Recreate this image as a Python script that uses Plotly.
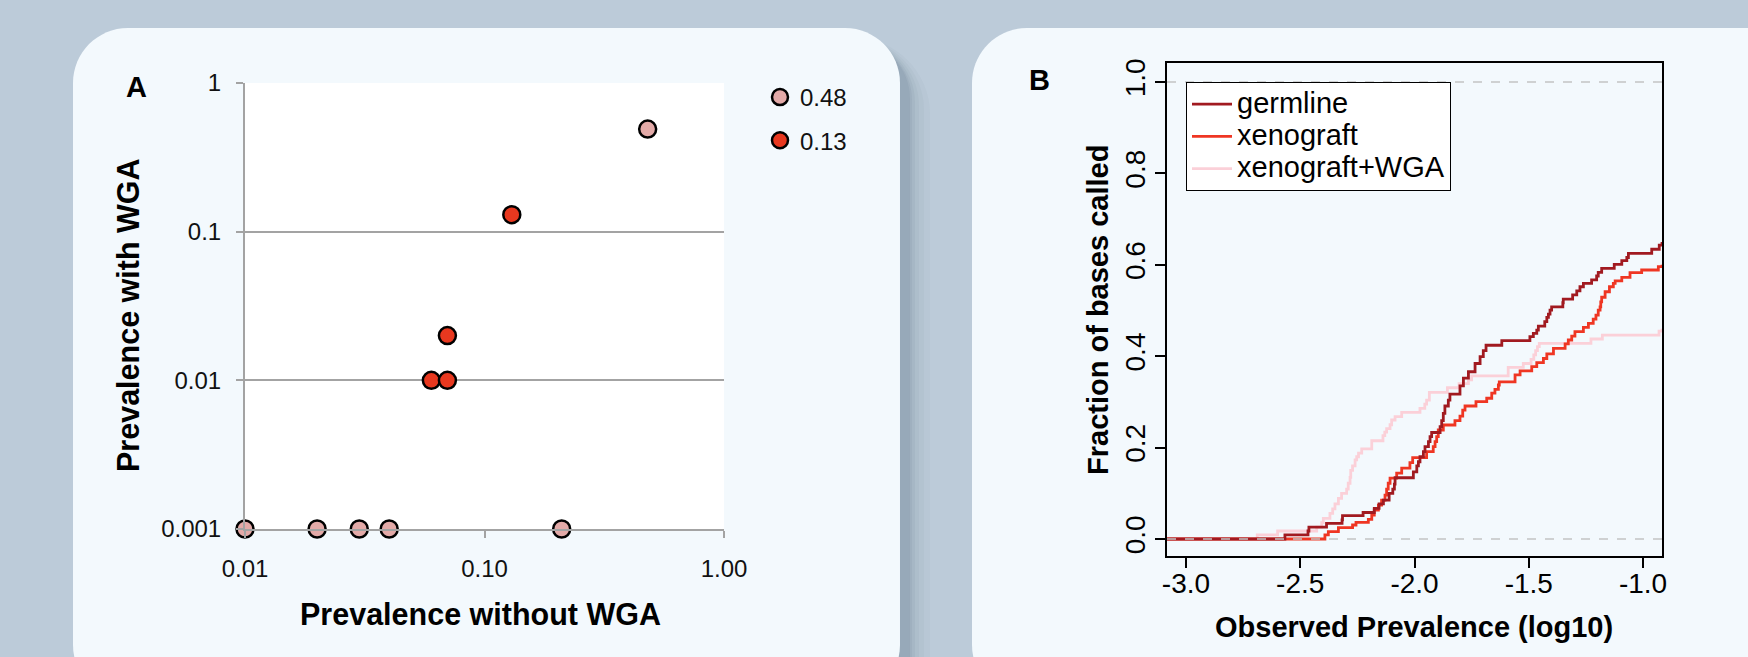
import plotly.graph_objects as go

W, H = 1748, 657

# ---------------- Panel A data ----------------
a_names = ["0.48", "0.13"]
a_pink_x = [0.01, 0.02, 0.03, 0.04, 0.21, 0.48]
a_pink_y = [0.001, 0.001, 0.001, 0.001, 0.001, 0.49]
a_red_x = [0.06, 0.07, 0.07, 0.13]
a_red_y = [0.01, 0.01, 0.02, 0.13]
a_xtick_vals = [0.01, 0.1, 1.0]
a_xtick_text = ["0.01", "0.10", "1.00"]
a_ytick_vals = [0.001, 0.01, 0.1, 1]
a_ytick_text = ["0.001", "0.01", "0.1", "1"]

# ---------------- Panel B data (step curves) ----------------
b_names = ["germline", "xenograft", "xenograft+WGA"]
germ_x = [-3.083, -2.567, -2.466, -2.462, -2.385, -2.317, -2.315, -2.225, -2.176, -2.155,
          -2.136, -2.111, -2.095, -2.088, -2.085, -2.005, -1.990, -1.983, -1.976, -1.961,
          -1.954, -1.939, -1.932, -1.925, -1.888, -1.881, -1.874, -1.867, -1.852, -1.845,
          -1.801, -1.786, -1.764, -1.735, -1.713, -1.699, -1.687, -1.618, -1.495, -1.480,
          -1.465, -1.458, -1.430, -1.421, -1.414, -1.407, -1.400, -1.351, -1.349, -1.308,
          -1.290, -1.276, -1.261, -1.225, -1.203, -1.196, -1.181, -1.126, -1.093, -1.071,
          -1.064, -0.962, -0.929, -0.917]
germ_y = [0.0, 0.009, 0.0175, 0.026, 0.034, 0.042, 0.051, 0.058, 0.067, 0.077,
          0.085, 0.100, 0.109, 0.120, 0.134, 0.147, 0.160, 0.169, 0.180, 0.191,
          0.202, 0.213, 0.224, 0.233, 0.246, 0.259, 0.275, 0.291, 0.304, 0.317,
          0.335, 0.352, 0.366, 0.384, 0.399, 0.412, 0.424, 0.434, 0.443, 0.450,
          0.457, 0.466, 0.4755, 0.485, 0.492, 0.501, 0.508, 0.517, 0.525, 0.534,
          0.543, 0.552, 0.5595, 0.567, 0.5755, 0.5835, 0.592, 0.601, 0.609, 0.616,
          0.625, 0.634, 0.643, 0.650]
xeno_x = [-3.083, -2.392, -2.377, -2.333, -2.271, -2.256, -2.202, -2.187, -2.176, -2.158,
          -2.144, -2.129, -2.122, -2.115, -2.107, -2.078, -2.056, -2.020, -2.008, -1.947,
          -1.918, -1.910, -1.903, -1.896, -1.874, -1.823, -1.801, -1.789, -1.779, -1.731,
          -1.684, -1.662, -1.648, -1.633, -1.629, -1.560, -1.538, -1.487, -1.465, -1.436,
          -1.421, -1.392, -1.341, -1.327, -1.312, -1.298, -1.261, -1.239, -1.218, -1.206,
          -1.196, -1.188, -1.185, -1.181, -1.166, -1.147, -1.130, -1.122, -1.093, -1.057,
          -1.006, -0.933, -0.917]
xeno_y = [0.0, 0.009, 0.016, 0.025, 0.0306, 0.0365, 0.043, 0.0525, 0.0635, 0.074,
          0.085, 0.096, 0.109, 0.122, 0.133, 0.144, 0.155, 0.167, 0.178, 0.191,
          0.202, 0.213, 0.224, 0.2385, 0.2495, 0.259, 0.269, 0.282, 0.291, 0.3005,
          0.308, 0.319, 0.3275, 0.337, 0.344, 0.359, 0.368, 0.377, 0.386, 0.395,
          0.405, 0.417, 0.427, 0.4355, 0.444, 0.4536, 0.463, 0.472, 0.481, 0.490,
          0.501, 0.508, 0.519, 0.529, 0.541, 0.552, 0.5595, 0.565, 0.5726, 0.583,
          0.5886, 0.596, 0.600]
wga_x = [-3.083, -2.688, -2.599, -2.428, -2.406, -2.399, -2.370, -2.358, -2.348, -2.333,
         -2.319, -2.297, -2.290, -2.282, -2.279, -2.271, -2.260, -2.253, -2.245, -2.231,
         -2.187, -2.138, -2.130, -2.122, -2.107, -2.100, -2.085, -2.056, -1.976, -1.955,
         -1.947, -1.935, -1.856, -1.805, -1.764, -1.750, -1.590, -1.524, -1.490, -1.478,
         -1.470, -1.462, -1.454, -1.228, -1.178, -0.930, -0.917]
wga_y = [0.0, 0.009, 0.0175, 0.026, 0.036, 0.045, 0.056, 0.066, 0.077, 0.089,
         0.100, 0.109, 0.122, 0.135, 0.150, 0.160, 0.173, 0.180, 0.188, 0.197,
         0.215, 0.226, 0.234, 0.2414, 0.250, 0.2604, 0.268, 0.277, 0.286, 0.295,
         0.304, 0.321, 0.331, 0.340, 0.348, 0.357, 0.3757, 0.384, 0.393, 0.403,
         0.412, 0.421, 0.428, 0.4376, 0.446, 0.455, 0.460]
b_xtick_vals = [-3.0, -2.5, -2.0, -1.5, -1.0]
b_xtick_text = ["-3.0", "-2.5", "-2.0", "-1.5", "-1.0"]
b_ytick_vals = [0.0, 0.2, 0.4, 0.6, 0.8, 1.0]
b_ytick_text = ["0.0", "0.2", "0.4", "0.6", "0.8", "1.0"]
b_ref_levels = [0.0, 1.0]

# ---------------- styling ----------------
PAGE_BG = "#bccbd9"
PANEL_BG = "#f3f9fd"
PINK_A = "#e3aaa8"
RED_A = "#e8381f"
GERM = "#a11a20"
XENO = "#ef3623"
WGA = "#fbd0d8"
GRID = "#a3a3a3"
SANS = "Liberation Sans, Arial, Helvetica, sans-serif"


def px(x):
    return x / W


def py(y):
    return 1 - y / H


def rr_path(x0, y0, x1, y1, r):
    k = 0.5523 * r
    pts = [
        ("M", [(x0 + r, y0)]),
        ("L", [(x1 - r, y0)]),
        ("C", [(x1 - r + k, y0), (x1, y0 + r - k), (x1, y0 + r)]),
        ("L", [(x1, y1 - r)]),
        ("C", [(x1, y1 - r + k), (x1 - r + k, y1), (x1 - r, y1)]),
        ("L", [(x0 + r, y1)]),
        ("C", [(x0 + r - k, y1), (x0, y1 - r + k), (x0, y1 - r)]),
        ("L", [(x0, y0 + r)]),
        ("C", [(x0, y0 + r - k), (x0 + r - k, y0), (x0 + r, y0)]),
    ]
    s = ""
    for cmd, ps in pts:
        s += cmd + " " + " ".join(f"{px(a):.5f},{py(b):.5f}" for a, b in ps) + " "
    return s + "Z"


shapes = []
panels = [(73, 28, 900, 700), (972, 28, 1820, 700)]
for (x0, y0, x1, y1) in panels:
    for e, op in [(22, 0.03), (16, 0.04), (11, 0.05), (7, 0.06), (4, 0.07), (2, 0.08)]:
        shapes.append(dict(type="path", xref="paper", yref="paper", layer="below",
                           path=rr_path(x0 + 8 - e * 0.3, y0 + 14 - e * 0.2, x1 + 8 + e, y1 + 14 + e, 55 + e),
                           fillcolor=f"rgba(70,90,110,{op})", line=dict(width=0)))
for (x0, y0, x1, y1) in panels:
    shapes.append(dict(type="path", xref="paper", yref="paper", layer="below",
                       path=rr_path(x0, y0, x1, y1, 55),
                       fillcolor=PANEL_BG, line=dict(width=0)))
# white plotting area of panel A
shapes.append(dict(type="rect", xref="x domain", yref="y domain", layer="below",
                   x0=0, x1=1, y0=0, y1=1, fillcolor="white", line=dict(width=0)))
# dashed reference lines in panel B
for lvl in b_ref_levels:
    shapes.append(dict(type="line", xref="x2 domain", yref="y2", layer="above",
                       x0=0, x1=1, y0=lvl, y1=lvl,
                       line=dict(color="#c4c4c4", width=1.5, dash="dash")))

fig = go.Figure()

# Panel A scatter
for name, xs, ys, col in [(a_names[0], a_pink_x, a_pink_y, PINK_A),
                          (a_names[1], a_red_x, a_red_y, RED_A)]:
    fig.add_trace(go.Scatter(
        x=xs, y=ys, mode="markers", name=name, xaxis="x", yaxis="y",
        legend="legend", legendgroup=name, cliponaxis=False,
        marker=dict(size=17, color=col, line=dict(color="black", width=2.5)),
    ))

# Panel B step curves (pink drawn first, underneath)
for name, xs, ys, col in [(b_names[2], wga_x, wga_y, WGA),
                          (b_names[1], xeno_x, xeno_y, XENO),
                          (b_names[0], germ_x, germ_y, GERM)]:
    fig.add_trace(go.Scatter(
        x=xs, y=ys, mode="lines", xaxis="x2", yaxis="y2",
        name=f'<span style="font-size:29px">{name}</span>',
        legend="legend2", line=dict(color=col, width=2.8, shape="hv"),
    ))

annotations = [
    dict(text="<b>A</b>", x=px(136), y=py(87), font=dict(size=29)),
    dict(text="<b>B</b>", x=px(1039), y=py(80), font=dict(size=29)),
    dict(text="<b>Prevalence with WGA</b>", x=px(128), y=py(315), textangle=-90, font=dict(size=30.5)),
    dict(text="<b>Prevalence without WGA</b>", x=px(480), y=py(614), font=dict(size=30.5)),
    dict(text="<b>Fraction of bases called</b>", x=px(1098), y=py(310), textangle=-90, font=dict(size=29)),
    dict(text="<b>Observed Prevalence (log10)</b>", x=px(1414), y=py(627), font=dict(size=29)),
]
for a in annotations:
    a.update(xref="paper", yref="paper", showarrow=False, xanchor="center", yanchor="middle")
    a["font"].update(family=SANS, color="black")

fig.update_layout(
    width=W, height=H, margin=dict(l=0, r=0, t=0, b=0, pad=0, autoexpand=False),
    paper_bgcolor=PAGE_BG, plot_bgcolor="rgba(0,0,0,0)",
    font=dict(family=SANS, color="black"),
    shapes=shapes, annotations=annotations,
    xaxis=dict(domain=[px(245), px(724)], anchor="y", type="log", range=[-2, 0],
               tickvals=a_xtick_vals, ticktext=a_xtick_text,
               ticks="outside", ticklen=7, tickwidth=2, tickcolor=GRID,
               showline=True, linecolor=GRID, linewidth=2, showgrid=False, zeroline=False,
               tickfont=dict(size=24, color="#111"), ticklabelstandoff=10, automargin=False),
    yaxis=dict(domain=[py(529), py(83)], anchor="x", type="log", range=[-3, 0],
               tickvals=a_ytick_vals, ticktext=a_ytick_text,
               ticks="outside", ticklen=7, tickwidth=2, tickcolor=GRID,
               showline=True, linecolor=GRID, linewidth=2,
               showgrid=True, gridcolor=GRID, gridwidth=2, zeroline=False,
               tickfont=dict(size=24, color="#111"), ticklabelstandoff=10, automargin=False),
    xaxis2=dict(domain=[px(1167), px(1662)], anchor="y2", range=[-3.083, -0.917],
                tickvals=b_xtick_vals, ticktext=b_xtick_text,
                ticks="outside", ticklen=10, tickwidth=2, tickcolor="black",
                showline=True, linecolor="black", linewidth=2, mirror=True,
                showgrid=False, zeroline=False,
                tickfont=dict(size=28, color="black"), ticklabelstandoff=-9, automargin=False),
    yaxis2=dict(domain=[py(556), py(63)], anchor="x2", range=[-0.0372, 1.0416],
                tickvals=b_ytick_vals, ticktext=b_ytick_text, tickangle=-90,
                ticks="outside", ticklen=10, tickwidth=2, tickcolor="black",
                showline=True, linecolor="black", linewidth=2, mirror=True,
                showgrid=False, zeroline=False,
                tickfont=dict(size=28, color="black"), ticklabelstandoff=-1, automargin=False),
    legend=dict(x=px(760), y=py(75), xanchor="left", yanchor="top",
                bgcolor="rgba(0,0,0,0)", borderwidth=0,
                font=dict(size=24, color="#111"), tracegroupgap=9,
                traceorder="grouped", itemsizing="trace"),
    legend2=dict(x=px(1186), y=py(82), xanchor="left", yanchor="top",
                 bgcolor="white", bordercolor="black", borderwidth=1, itemwidth=40,
                 font=dict(size=22.5, color="black"), traceorder="reversed"),
)

fig.write_html("out.html")
